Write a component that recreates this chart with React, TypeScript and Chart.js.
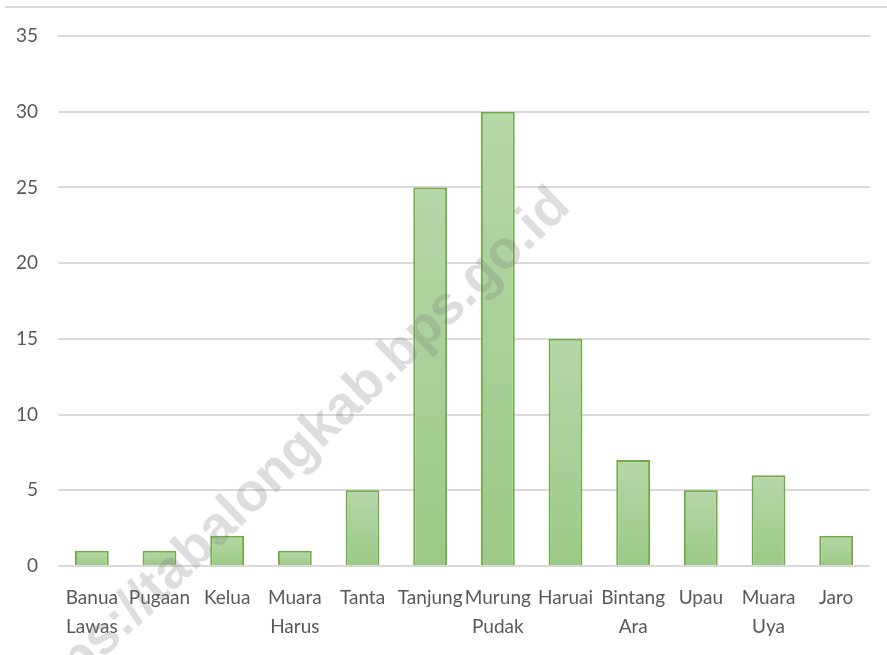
import React, { useEffect, useRef } from "react";
import { Chart, registerables } from "chart.js";

Chart.register(...registerables);

const categories: (string | string[])[] = [
  ["Banua", "Lawas"],
  "Pugaan",
  "Kelua",
  ["Muara", "Harus"],
  "Tanta",
  "Tanjung",
  ["Murung", "Pudak"],
  "Haruai",
  ["Bintang", "Ara"],
  "Upau",
  ["Muara", "Uya"],
  "Jaro",
];
const values = [1, 1, 2, 1, 5, 25, 30, 15, 7, 5, 6, 2];
const yTicks = [0, 5, 10, 15, 20, 25, 30, 35];
const watermark = "https://tabalongkab.bps.go.id";

const FONT = "Lato, 'Open Sans', sans-serif";

export default function App() {
  const ref = useRef<HTMLCanvasElement | null>(null);

  useEffect(() => {
    document.body.style.margin = "0";
    const canvas = ref.current!;
    const decor = {
      id: "decor",
      beforeDraw(chart: any) {
        const c = chart.ctx;
        c.save();
        c.strokeStyle = "#d9d9d9";
        c.lineWidth = 2;
        c.beginPath();
        c.moveTo(5, 7);
        c.lineTo(chart.width, 7);
        c.stroke();
        c.restore();
      },
      afterDraw(chart: any) {
        const c = chart.ctx;
        c.save();
        c.translate(562, 198);
        c.rotate((-43.8 * Math.PI) / 180);
        c.font = `bold 54px 'Liberation Sans', Arial, sans-serif`;
        c.fillStyle = "rgba(120,120,120,0.25)";
        c.textAlign = "right";
        c.textBaseline = "middle";
        c.fillText(watermark, 0, 0);
        c.restore();
      },
    };
    const chart = new Chart(canvas, {
      type: "bar",
      data: {
        labels: categories,
        datasets: [
          {
            data: values,
            borderColor: "#70ad47",
            borderWidth: 2,
            categoryPercentage: 1,
            barPercentage: 0.5,
            backgroundColor: (ctx: any) => {
              const ch = ctx.chart;
              const ys = ch.scales?.y;
              if (!ys || ctx.parsed == null) return "#a9d18e";
              const top = ys.getPixelForValue(ctx.parsed.y);
              const bottom = ys.getPixelForValue(0);
              if (!isFinite(top) || !isFinite(bottom) || top === bottom) return "#a9d18e";
              const g = ch.ctx.createLinearGradient(0, top, 0, bottom);
              g.addColorStop(0, "#b6d7a8");
              g.addColorStop(1, "#9cc987");
              return g;
            },
          },
        ],
      },
      options: {
        responsive: false,
        animation: false,
        layout: { padding: { top: 36, right: 17, bottom: 0, left: 0 } },
        plugins: { legend: { display: false }, tooltip: { enabled: false } },
        scales: {
          x: {
            afterFit: (s: any) => {
              s.height = 89;
            },
            grid: { display: false, drawTicks: false },
            border: { display: false },
            ticks: {
              color: "#595959",
              font: { family: FONT, size: 19, lineHeight: 1.5 },
              padding: 18,
              maxRotation: 0,
              autoSkip: false,
            },
          },
          y: {
            min: 0,
            max: 35,
            afterBuildTicks: (s: any) => {
              s.ticks = yTicks.map((v) => ({ value: v }));
            },
            afterFit: (s: any) => {
              s.width = 58;
            },
            grid: { color: "#d9d9d9", lineWidth: 2, drawTicks: false },
            border: { display: false },
            ticks: {
              color: "#595959",
              font: { family: FONT, size: 19 },
              padding: 20,
            },
          },
        },
      },
      plugins: [decor],
    });
    return () => chart.destroy();
  }, []);

  return <canvas ref={ref} width={887} height={655} style={{ display: "block" }} />;
}
